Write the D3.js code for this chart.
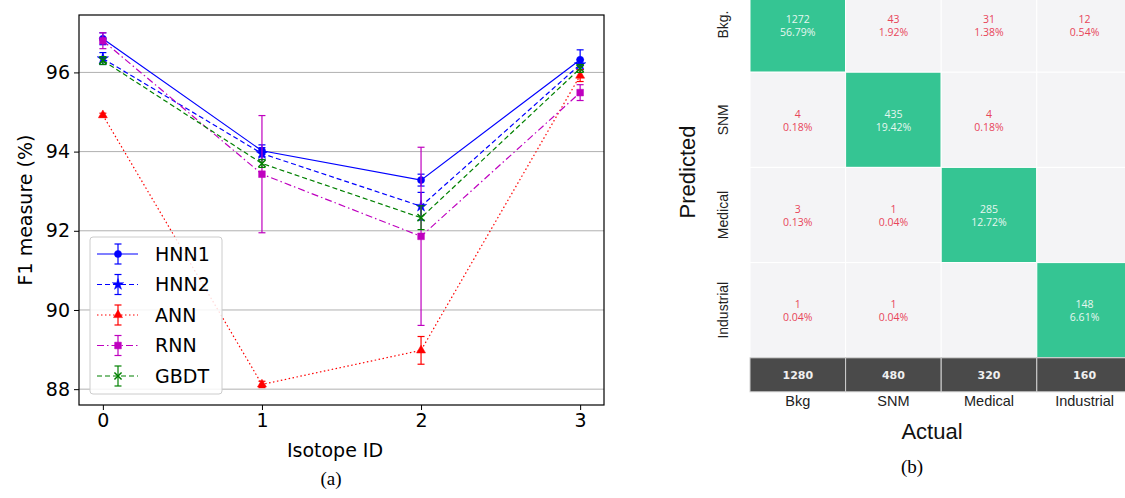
<!DOCTYPE html>
<html><head><meta charset="utf-8">
<script src="https://cdn.jsdelivr.net/npm/d3@7"></script>
<style>body{margin:0;background:#fff}svg{display:block}</style>
</head><body>
<svg id="c" width="1125" height="498"></svg>
<script>
// ---------- panel (a) data ----------
const isotopeIds = [0, 1, 2, 3];
const yTicks = [88, 90, 92, 94, 96];
const seriesNames = ["HNN1", "HNN2", "ANN", "RNN", "GBDT"];
const hnn1 = [96.85, 94.02, 93.28, 96.32];
const hnn1Err = [0.15, 0.15, 0.15, 0.25];
const hnn2 = [96.35, 93.95, 92.62, 96.2];
const hnn2Err = [0.15, 0.15, 0.35, 0.12];
const ann = [94.92, 88.12, 88.98, 95.92];
const annErr = [0.05, 0.08, 0.35, 0.15];
const rnn = [96.8, 93.43, 91.86, 95.49];
const rnnErr = [0.2, 1.48, 2.25, 0.2];
const gbdt = [96.3, 93.7, 92.33, 96.1];
const gbdtErr = [0.1, 0.1, 0.3, 0.1];

// ---------- panel (b) data ----------
const actualLabels = ["Bkg", "SNM", "Medical", "Industrial"];
const predictedLabels = ["Bkg.", "SNM", "Medical", "Industrial"];
const rowBkg = [1272, 43, 31, 12];
const rowSNM = [4, 435, 4, 0];
const rowMedical = [3, 1, 285, 0];
const rowIndustrial = [1, 1, 0, 148];
const columnTotals = [1280, 480, 320, 160];
const grandTotal = 2240;

const svg = d3.select("#c");

// ================= Panel (a) =================
const L = {l: 79, r: 604, t: 15, b: 405};
const x = d3.scaleLinear().domain([-0.15, 3.15]).range([L.l, L.r]);
const y = d3.scaleLinear().domain([87.60, 97.45]).range([L.b, L.t]);

const gA = svg.append("g");
gA.selectAll("line.grid").data(yTicks).join("line")
  .attr("x1", L.l).attr("x2", L.r).attr("y1", d => y(d)).attr("y2", d => y(d))
  .attr("stroke", "#b0b0b0").attr("stroke-width", 1);

const series = [
  {name: "HNN1", v: hnn1, e: hnn1Err, color: "#0000ff", dash: null, marker: "circle"},
  {name: "HNN2", v: hnn2, e: hnn2Err, color: "#0000ff", dash: "5,3", marker: "star"},
  {name: "ANN", v: ann, e: annErr, color: "#ff0000", dash: "1.5,2.5", marker: "triangle"},
  {name: "RNN", v: rnn, e: rnnErr, color: "#bf00bf", dash: "7,3,1.5,3", marker: "square"},
  {name: "GBDT", v: gbdt, e: gbdtErr, color: "#008000", dash: "5,3", marker: "cross"}
];
const symMap = {circle: d3.symbolCircle, star: d3.symbolStar, triangle: d3.symbolTriangle, square: d3.symbolSquare, cross: d3.symbolX};
const symSize = {circle: 40, star: 40, triangle: 35, square: 45, cross: 35};

function drawMarker(g, s, cx, cy) {
  g.append("path").attr("d", d3.symbol().type(symMap[s.marker]).size(symSize[s.marker])())
   .attr("transform", `translate(${cx},${cy})`)
   .attr("fill", s.color).attr("stroke", s.color).attr("stroke-width", s.marker === "cross" ? 1.5 : 0.5);
}

const line = d3.line().x((d, i) => x(isotopeIds[i])).y(d => y(d));
series.forEach(s => {
  const g = gA.append("g");
  g.append("path").datum(s.v).attr("d", line).attr("fill", "none")
   .attr("stroke", s.color).attr("stroke-width", 1.2)
   .attr("stroke-dasharray", s.dash);
  s.v.forEach((v, i) => {
    const cx = x(isotopeIds[i]);
    const y1 = y(v - s.e[i]), y2 = y(v + s.e[i]);
    g.append("line").attr("x1", cx).attr("x2", cx).attr("y1", y1).attr("y2", y2).attr("stroke", s.color).attr("stroke-width", 1.2);
    [y1, y2].forEach(yy => g.append("line").attr("x1", cx - 3.5).attr("x2", cx + 3.5).attr("y1", yy).attr("y2", yy).attr("stroke", s.color).attr("stroke-width", 1.2));
    drawMarker(g, s, cx, y(v));
  });
});

gA.append("rect").attr("x", L.l).attr("y", L.t).attr("width", L.r - L.l).attr("height", L.b - L.t)
  .attr("fill", "none").attr("stroke", "#000").attr("stroke-width", 1.2);

const xAxis = d3.axisBottom(x).tickValues(isotopeIds).tickSize(5).tickPadding(4).tickFormat(d3.format("d"));
const yAxis = d3.axisLeft(y).tickValues(yTicks).tickSize(5).tickPadding(4).tickFormat(d3.format("d"));
const gx = gA.append("g").attr("transform", `translate(0,${L.b})`).call(xAxis);
const gy = gA.append("g").attr("transform", `translate(${L.l},0)`).call(yAxis);
[gx, gy].forEach(g => {
  g.select(".domain").remove();
  g.selectAll("text").attr("font-family", "DejaVu Sans").attr("font-size", 19).attr("fill", "#000");
  g.selectAll("line").attr("stroke", "#000");
});
gA.append("text").attr("x", 335).attr("y", 457).attr("text-anchor", "middle")
  .attr("font-family", "DejaVu Sans").attr("font-size", 19).text("Isotope ID");
gA.append("text").attr("transform", "translate(32,210) rotate(-90)").attr("text-anchor", "middle")
  .attr("font-family", "DejaVu Sans").attr("font-size", 19).text("F1 measure (%)");
gA.append("text").attr("x", 331).attr("y", 485).attr("text-anchor", "middle")
  .attr("font-family", "Liberation Serif").attr("font-size", 19).text("(a)");

const lg = gA.append("g");
lg.append("rect").attr("x", 90).attr("y", 237).attr("width", 132).attr("height", 157).attr("rx", 3)
  .attr("fill", "#fff").attr("fill-opacity", 0.85).attr("stroke", "#cccccc");
const legY = d3.scalePoint().domain(seriesNames).range([254, 376]);
series.forEach(s => {
  const yy = legY(s.name);
  lg.append("line").attr("x1", 97).attr("x2", 138).attr("y1", yy).attr("y2", yy)
    .attr("stroke", s.color).attr("stroke-width", 1.2).attr("stroke-dasharray", s.dash);
  lg.append("line").attr("x1", 118).attr("x2", 118).attr("y1", yy - 10).attr("y2", yy + 10).attr("stroke", s.color).attr("stroke-width", 1.2);
  [yy - 10, yy + 10].forEach(c => lg.append("line").attr("x1", 114.5).attr("x2", 121.5).attr("y1", c).attr("y2", c).attr("stroke", s.color).attr("stroke-width", 1.2));
  drawMarker(lg, s, 118, yy);
  lg.append("text").attr("x", 155).attr("y", yy).attr("dy", "0.36em")
    .attr("font-family", "DejaVu Sans").attr("font-size", 19).text(s.name);
});

// ================= Panel (b) =================
const matrix = [rowBkg, rowSNM, rowMedical, rowIndustrial];
const cellW = 95.6, cellH = 95.2;
const mx = d3.scaleBand().domain(actualLabels).range([750, 750 + 4 * cellW]);
const my = d3.scaleBand().domain(predictedLabels).range([-23, -23 + 4 * cellH]);
const totTop = -23 + 4 * cellH, totH = 34;
const gB = svg.append("g");
const cells = [];
matrix.forEach((row, r) => row.forEach((v, c) => cells.push({r, c, v})));
gB.selectAll("rect.cell").data(cells).join("rect")
  .attr("x", d => mx(actualLabels[d.c])).attr("y", d => my(predictedLabels[d.r]))
  .attr("width", mx.bandwidth()).attr("height", my.bandwidth())
  .attr("fill", d => d.r === d.c ? "#35c593" : "#f4f4f6")
  .attr("stroke", "#ffffff").attr("stroke-width", 1);
cells.filter(d => d.v > 0).forEach(d => {
  const cx = mx(actualLabels[d.c]) + mx.bandwidth() / 2;
  const cy = my(predictedLabels[d.r]) + my.bandwidth() / 2;
  const col = d.r === d.c ? "#e6f7f0" : "#e8455a";
  gB.append("text").attr("x", cx).attr("y", cy - 2).attr("text-anchor", "middle")
    .attr("font-family", "Open Sans").attr("font-size", 10.5).attr("fill", col).text(d.v);
  gB.append("text").attr("x", cx).attr("y", cy + 11).attr("text-anchor", "middle")
    .attr("font-family", "Open Sans").attr("font-size", 10.5).attr("fill", col)
    .text((d.v / grandTotal * 100).toFixed(2) + "%");
});
gB.selectAll("rect.tot").data(columnTotals).join("rect")
  .attr("x", (d, i) => mx(actualLabels[i])).attr("y", totTop)
  .attr("width", mx.bandwidth()).attr("height", totH)
  .attr("fill", "#4a4a4a").attr("stroke", "#cfcfcf").attr("stroke-width", 1);
gB.selectAll("text.tot").data(columnTotals).join("text")
  .attr("x", (d, i) => mx(actualLabels[i]) + mx.bandwidth() / 2).attr("y", totTop + totH / 2).attr("dy", "0.36em")
  .attr("text-anchor", "middle").attr("font-family", "DejaVu Sans").attr("font-weight", "bold")
  .attr("font-size", 11).attr("fill", "#f0f0f0").text(d => d);
gB.selectAll("text.xl").data(actualLabels).join("text")
  .attr("x", d => mx(d) + mx.bandwidth() / 2).attr("y", 406)
  .attr("text-anchor", "middle").attr("font-family", "Liberation Sans").attr("font-size", 14.5).attr("fill", "#222").text(d => d);
gB.selectAll("text.yl").data(predictedLabels).join("text")
  .attr("transform", d => `translate(728,${my(d) + my.bandwidth() / 2}) rotate(-90)`)
  .attr("text-anchor", "middle").attr("font-family", "Liberation Sans").attr("font-size", 14).attr("fill", "#222").text(d => d);
gB.append("text").attr("transform", "translate(695,172) rotate(-90)").attr("text-anchor", "middle")
  .attr("font-family", "Liberation Sans").attr("font-size", 22).attr("fill", "#111").text("Predicted");
gB.append("text").attr("x", 932).attr("y", 439).attr("text-anchor", "middle")
  .attr("font-family", "Liberation Sans").attr("font-size", 22).attr("fill", "#111").text("Actual");
gB.append("text").attr("x", 912).attr("y", 473).attr("text-anchor", "middle")
  .attr("font-family", "Liberation Serif").attr("font-size", 19).text("(b)");
</script>
</body></html>
